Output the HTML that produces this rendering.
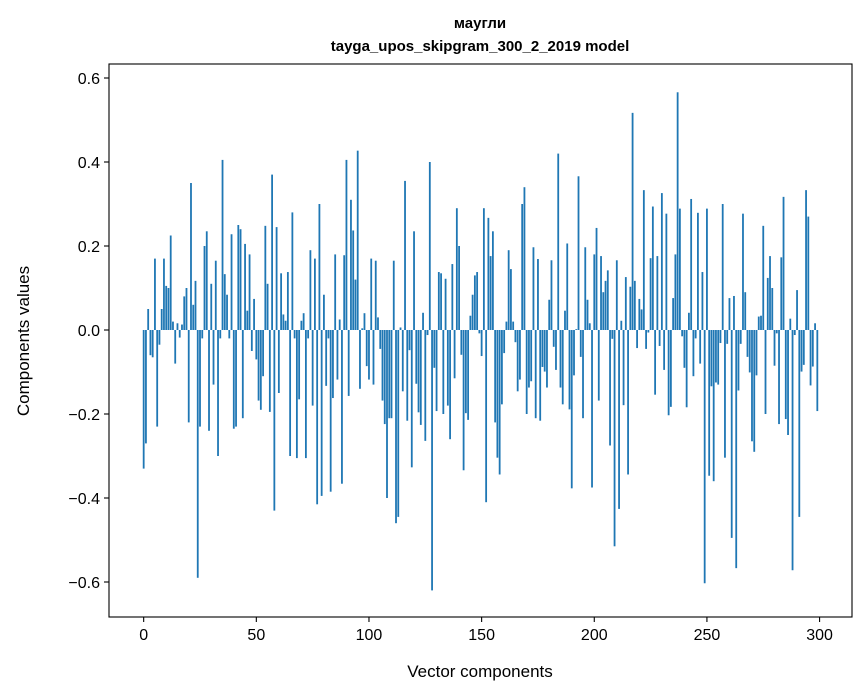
<!DOCTYPE html>
<html><head><meta charset="utf-8">
<style>
html,body{margin:0;padding:0;background:#fff;}
svg{display:block;font-family:"Liberation Sans","DejaVu Sans",sans-serif;}
</style></head>
<body>
<svg id="chart" width="867" height="696" viewBox="0 0 867 696">
  <rect x="0" y="0" width="867" height="696" fill="#fff"/>
  <text x="480" y="28" text-anchor="middle" font-size="15" font-weight="bold" fill="#000">маугли</text>
  <text x="480" y="51" text-anchor="middle" font-size="15" font-weight="bold" fill="#000">tayga_upos_skipgram_300_2_2019 model</text>
  <g id="bars"></g>
  <g id="axes"></g>
  <text x="480" y="677" text-anchor="middle" font-size="17" fill="#000">Vector components</text>
  <text x="0" y="0" transform="translate(29,341) rotate(-90)" text-anchor="middle" font-size="17" fill="#000">Components values</text>
</svg>
<script>
const values = [
-0.33,-0.27,0.05,-0.06,-0.065,0.17,-0.23,-0.035,0.05,0.17,
0.105,0.10,0.225,0.02,-0.08,0.016,-0.018,0.013,0.08,0.10,
-0.22,0.35,0.06,0.117,-0.59,-0.23,-0.02,0.20,0.235,-0.24,
0.11,-0.13,0.165,-0.30,-0.02,0.405,0.133,0.084,-0.02,0.228,
-0.235,-0.23,0.25,0.24,-0.21,0.205,0.046,0.18,-0.05,0.074,
-0.07,-0.168,-0.19,-0.11,0.248,0.11,-0.195,0.37,-0.43,0.245,
-0.15,0.135,0.037,0.022,0.138,-0.30,0.28,-0.02,-0.305,-0.165,
0.022,0.04,-0.305,-0.02,0.19,-0.18,0.17,-0.415,0.30,-0.395,
0.084,-0.133,-0.02,-0.385,-0.162,0.18,-0.118,0.025,-0.366,0.178,
0.405,-0.157,0.31,0.237,0.12,0.427,-0.14,0.004,0.04,-0.086,
-0.118,0.17,-0.13,0.165,0.03,-0.045,-0.168,-0.224,-0.40,-0.21,
-0.21,0.165,-0.46,-0.445,0.006,-0.146,0.355,-0.216,-0.048,-0.327,
0.235,-0.128,-0.196,-0.226,0.041,-0.264,-0.012,0.40,-0.62,-0.09,
-0.193,0.138,0.135,-0.2,0.122,-0.18,-0.26,0.157,-0.115,0.29,
0.20,-0.059,-0.334,-0.198,-0.214,0.034,0.084,0.13,0.138,-0.008,
-0.062,0.29,-0.41,0.267,0.176,0.235,-0.22,-0.304,-0.344,-0.177,
-0.055,0.02,0.19,0.145,0.02,-0.029,-0.146,-0.118,0.30,0.34,
-0.2,-0.137,-0.122,0.197,-0.21,0.169,-0.216,-0.088,-0.099,-0.137,
0.072,0.166,-0.04,-0.095,0.42,-0.137,-0.177,0.046,0.206,-0.189,
-0.377,-0.108,0.002,0.366,-0.064,-0.21,0.197,0.072,0.016,-0.375,
0.18,0.243,-0.168,0.176,0.09,0.117,0.142,-0.275,-0.021,-0.515,
0.166,-0.426,0.022,-0.179,0.126,-0.344,0.103,0.517,0.117,-0.043,
0.074,0.049,0.333,-0.045,-0.006,0.171,0.294,-0.154,0.176,-0.038,
0.326,-0.095,0.277,-0.203,-0.183,0.076,0.18,0.566,0.289,-0.015,
-0.09,-0.184,0.041,0.312,-0.11,-0.02,0.279,-0.08,0.138,-0.603,
0.289,-0.347,-0.134,-0.36,-0.125,-0.13,-0.031,0.30,-0.304,-0.033,
0.076,-0.495,0.081,-0.567,-0.144,-0.033,0.277,0.09,-0.064,-0.101,
-0.265,-0.29,-0.108,0.032,0.034,0.248,-0.2,0.124,0.176,0.10,
-0.085,-0.008,-0.224,0.173,0.317,-0.212,-0.25,0.027,-0.572,-0.012,
0.095,-0.445,-0.099,-0.083,0.333,0.27,-0.132,-0.087,0.016,-0.193
];
const xTicks = [0,50,100,150,200,250,300];
const yTicks = [-0.6,-0.4,-0.2,0.0,0.2,0.4,0.6];
const yTickLabels = ["\u22120.6","\u22120.4","\u22120.2","0.0","0.2","0.4","0.6"];

const NS = "http://www.w3.org/2000/svg";
const plotL = 109, plotR = 852, plotT = 64, plotB = 617;
const xMin = -15.39, xMax = 314.39;
function xScale(v){ return plotL + (v - xMin) / (xMax - xMin) * (plotR - plotL); }
function yScale(v){ return 330 - v * 420; }
function mk(tag, attrs){ const e = document.createElementNS(NS, tag); for (const k in attrs) e.setAttribute(k, attrs[k]); return e; }

const barsG = document.getElementById('bars');
values.forEach((v, i) => {
  const x0 = xScale(i - 0.4), x1 = xScale(i + 0.4);
  const y0 = yScale(Math.max(v, 0)), y1 = yScale(Math.min(v, 0));
  const r = mk('rect', {x: x0, y: y0, width: x1 - x0, height: Math.max(y1 - y0, 0.3), fill: '#1f77b4'});
  
  
  barsG.appendChild(r);
});

const axesG = document.getElementById('axes');
const frame = mk('rect', {x: plotL, y: plotT, width: plotR - plotL, height: plotB - plotT, fill: 'none', stroke: '#000', 'stroke-width': 1.1});


axesG.appendChild(frame);

xTicks.forEach(t => {
  const x = xScale(t);
  const ln = mk('line', {x1: x, y1: plotB, x2: x, y2: plotB + 5, stroke: '#000', 'stroke-width': 1.1});
  
  
  axesG.appendChild(ln);
  const tx = mk('text', {x: x, y: plotB + 23, 'text-anchor': 'middle', 'font-size': 16, fill: '#000'});
  tx.textContent = String(t);
  
  
  axesG.appendChild(tx);
});

yTicks.forEach((t, k) => {
  const y = yScale(t);
  const ln = mk('line', {x1: plotL - 5, y1: y, x2: plotL, y2: y, stroke: '#000', 'stroke-width': 1.1});
  
  
  axesG.appendChild(ln);
  const tx = mk('text', {x: plotL - 9, y: y + 6, 'text-anchor': 'end', 'font-size': 16, fill: '#000'});
  tx.textContent = yTickLabels[k];
  
  
  axesG.appendChild(tx);
});
</script>
</body></html>
